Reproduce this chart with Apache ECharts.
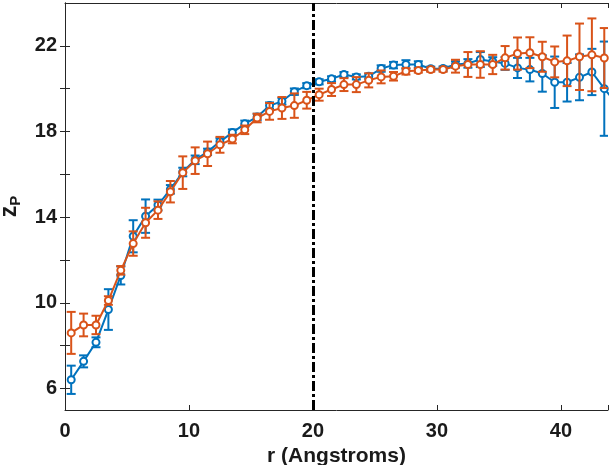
<!DOCTYPE html>
<html><head><meta charset="utf-8">
<script src="https://cdn.jsdelivr.net/npm/echarts@6/dist/echarts.min.js"></script>
<style>html,body{margin:0;padding:0;background:#fff}#c{width:610px;height:465px}</style>
</head><body><div id="c"></div>
<script>
const r = [0.5,1.5,2.5,3.5,4.5,5.5,6.5,7.5,8.5,9.5,10.5,11.5,12.5,13.5,14.5,15.5,16.5,17.5,18.5,19.5,20.5,21.5,22.5,23.5,24.5,25.5,26.5,27.5,28.5,29.5,30.5,31.5,32.5,33.5,34.5,35.5,36.5,37.5,38.5,39.5,40.5,41.5,42.5,43.5,44.5];
const blueVal = [6.41,7.27,8.16,9.69,11.28,13.11,14.05,14.57,15.30,16.11,16.68,17.05,17.53,17.95,18.36,18.68,19.21,19.41,19.86,20.14,20.32,20.46,20.66,20.55,20.58,20.94,21.10,21.13,21.13,20.93,20.94,21.13,21.18,21.36,21.27,21.18,20.97,20.89,20.71,20.30,20.30,20.53,20.78,20.00,19.3];
const blueErr = [0.66,0.28,0.23,0.95,0.42,0.75,0.78,0.25,0.2,0.2,0.2,0.15,0.15,0.15,0.15,0.15,0.15,0.15,0.15,0.12,0.12,0.12,0.12,0.12,0.12,0.15,0.15,0.2,0.15,0.1,0.1,0.15,0.2,0.35,0.2,0.3,0.47,0.55,0.85,1.2,0.9,1.07,1.08,2.2,0.5];
const orangeVal = [8.60,8.97,8.97,10.11,11.52,12.77,13.74,14.33,15.19,16.08,16.64,16.96,17.38,17.65,18.08,18.63,18.94,19.10,19.21,19.46,19.72,19.96,20.19,20.19,20.39,20.55,20.58,20.81,20.85,20.89,20.89,21.05,21.13,21.13,21.13,21.44,21.64,21.68,21.49,21.25,21.30,21.49,21.58,21.43,null];
const orangeErr = [0.98,0.53,0.43,0.2,0.2,0.57,0.7,0.41,0.5,0.76,0.62,0.57,0.37,0.2,0.2,0.2,0.39,0.51,0.57,0.39,0.28,0.3,0.3,0.35,0.33,0.3,0.2,0.15,0.1,0.1,0.1,0.3,0.58,0.62,0.45,0.55,0.75,0.72,0.7,0.72,1.18,1.55,1.7,1.4,null];
const xTicks = [0,10,20,30,40];
const yTicks = [6,8,10,12,14,16,18,20,22];
const yLabels = [6,10,14,18,22];
const cutoff = 20;

const BLUE = '#0072BD', ORANGE = '#D95319', AX = '#262626';
const FONT = 'Liberation Sans, Arial, sans-serif';

function pts(vals){ return r.map((x,i)=> vals[i]==null ? null : [x, vals[i]]).filter(d=>d); }
function bars(vals, errs){ return r.map((x,i)=> vals[i]==null ? null : [x, vals[i]-errs[i], vals[i]+errs[i]]).filter(d=>d); }
function errRender(color){
  return function(params, api){
    const x = api.value(0);
    const p1 = api.coord([x, api.value(1)]), p2 = api.coord([x, api.value(2)]);
    const w = 4.5;
    const style = {stroke: color, lineWidth: 2, fill: null};
    return {type:'group', children:[
      {type:'line', shape:{x1:p1[0],y1:p1[1],x2:p2[0],y2:p2[1]}, style},
      {type:'line', shape:{x1:p1[0]-w,y1:p1[1],x2:p1[0]+w,y2:p1[1]}, style},
      {type:'line', shape:{x1:p2[0]-w,y1:p2[1],x2:p2[0]+w,y2:p2[1]}, style}
    ]};
  };
}

const xBase = {type:'value', min:0, max:43.8, interval:10, splitLine:{show:false},
  axisLine:{show:true, lineStyle:{color:AX, width:1}},
  axisTick:{show:true, inside:true, length:5, lineStyle:{color:AX}}};
const yBase = {type:'value', min:5, max:24, splitLine:{show:false},
  axisLine:{show:true, lineStyle:{color:AX, width:1}},
  axisTick:{show:true, inside:true, length:5, customValues: yTicks, lineStyle:{color:AX}}};

const chart = echarts.init(document.getElementById('c'), null, {renderer:'canvas'});
chart.setOption({
  animation:false,
  backgroundColor:'#fff',
  grid:{left:65, right:2, top:3, bottom:55, containLabel:false, outerBoundsMode:'none'},
  xAxis:[
    Object.assign({}, xBase, {position:'bottom',
      axisLabel:{show:true, customValues:xTicks, color:'#1a1a1a', fontFamily:FONT, fontWeight:'bold', fontSize:20, margin:11},
      name:'r (Angstroms)', nameLocation:'middle', nameGap:33,
      nameTextStyle:{color:'#1a1a1a', fontFamily:FONT, fontWeight:'bold', fontSize:21}}),
    Object.assign({}, xBase, {position:'top', axisLabel:{show:false}})
  ],
  yAxis:[
    Object.assign({}, yBase, {position:'left',
      axisLabel:{show:true, customValues:yLabels, color:'#1a1a1a', fontFamily:FONT, fontWeight:'bold', fontSize:20, margin:8},
      name:'{z|z}{p|P}', nameLocation:'middle', nameGap:34, nameRotate:90,
      nameTextStyle:{rich:{
        z:{fontFamily:FONT, fontWeight:'bold', fontSize:23, color:'#1a1a1a', lineHeight:26, verticalAlign:'middle'},
        p:{fontFamily:FONT, fontWeight:'bold', fontSize:15, color:'#1a1a1a', padding:[13,0,0,0], verticalAlign:'middle'}
      }}}),
    Object.assign({}, yBase, {position:'right', axisLabel:{show:false}})
  ],
  series:[
    {type:'custom', name:'blueErr', renderItem:errRender(BLUE), data:bars(blueVal, blueErr), clip:true, z:2,
      encode:{x:0, y:[1,2]}},
    {type:'line', name:'blue', data:pts(blueVal), clip:true, z:3,
      symbol:'emptyCircle', symbolSize:7, showAllSymbol:true,
      lineStyle:{color:BLUE, width:2}, itemStyle:{color:BLUE, borderWidth:1.5}},
    {type:'custom', name:'orangeErr', renderItem:errRender(ORANGE), data:bars(orangeVal, orangeErr), clip:true, z:4,
      encode:{x:0, y:[1,2]}},
    {type:'line', name:'orange', data:pts(orangeVal), clip:true, z:5,
      symbol:'emptyCircle', symbolSize:7, showAllSymbol:true,
      lineStyle:{color:ORANGE, width:2}, itemStyle:{color:ORANGE, borderWidth:1.5},
      markLine:{silent:true, symbol:'none', label:{show:false}, z:10,
        lineStyle:{color:'#000', width:3, type:[10,3,3,3]},
        data:[{xAxis:cutoff}]}}
  ]
});
</script>
</body></html>
